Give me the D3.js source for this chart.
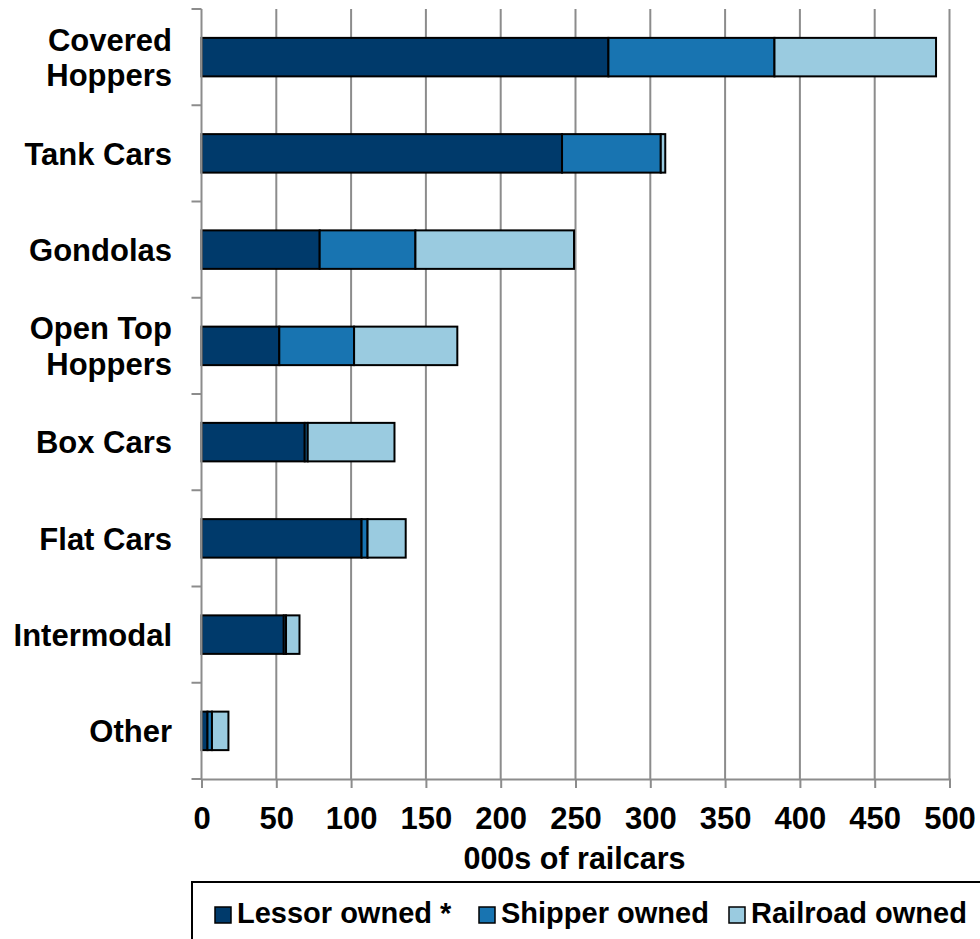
<!DOCTYPE html>
<html>
<head>
<meta charset="utf-8">
<script src="https://cdn.jsdelivr.net/npm/d3@7"></script>
<style>
  html, body { margin: 0; padding: 0; background: #fff; }
  svg { display: block; }
  text { font-family: "Liberation Sans", Arial, Helvetica, sans-serif; font-weight: bold; fill: #000; }
</style>
</head>
<body>
<svg id="chart" width="980" height="939"></svg>
<script>
// Railcar fleet by car type and owner (thousands of cars)
const categories = [
  ["Covered", "Hoppers"],
  ["Tank Cars"],
  ["Gondolas"],
  ["Open Top", "Hoppers"],
  ["Box Cars"],
  ["Flat Cars"],
  ["Intermodal"],
  ["Other"]
];
const seriesNames = ["Lessor owned *", "Shipper owned", "Railroad owned"];
const lessorOwned   = [272, 241, 79, 52, 69, 107, 55, 4];
const shipperOwned  = [111, 66, 64, 50, 2, 4, 1.5, 3];
const railroadOwned = [108, 3, 106, 69, 58, 25.5, 9, 11];
const xTicks = [0, 50, 100, 150, 200, 250, 300, 350, 400, 450, 500];
const xTitle = "000s of railcars";
const colors = ["#003A6B", "#1874B1", "#9ACBE0"];

const svg = d3.select("#chart");
const plotLeft = 201.5, plotRight = 949.5, plotTop = 9, plotBottom = 779;

const rows = categories.map((c, i) => ({
  key: c.join(" "),
  lines: c,
  values: [lessorOwned[i], shipperOwned[i], railroadOwned[i]]
}));

const x = d3.scaleLinear().domain([0, 500]).range([plotLeft, plotRight]);
const y = d3.scaleBand().domain(rows.map(r => r.key)).range([plotTop, plotBottom]).padding(0);

// vertical gridlines
svg.append("g").selectAll("line").data(xTicks.slice(1)).join("line")
  .attr("x1", d => x(d)).attr("x2", d => x(d))
  .attr("y1", plotTop).attr("y2", plotBottom)
  .attr("stroke", "#8c8c8c").attr("stroke-width", 2);

// stacked bars
const stack = d3.stack().keys([0, 1, 2]).value((r, k) => r.values[k]);
const layers = stack(rows);
const barH = y.bandwidth() * 0.4;
const barOff = y.bandwidth() * 0.3;

svg.append("g").selectAll("g").data(layers).join("g")
  .attr("fill", (d, i) => colors[i])
  .selectAll("rect").data(d => d).join("rect")
  .attr("x", d => x(d[0]))
  .attr("width", d => x(d[1]) - x(d[0]))
  .attr("y", d => y(d.data.key) + barOff)
  .attr("height", barH)
  .attr("stroke", "#000").attr("stroke-width", 2);

// y axis: line, ticks between categories, labels
const yTickPos = rows.map(r => y(r.key)).concat([plotBottom]);
svg.append("line")
  .attr("x1", plotLeft).attr("x2", plotLeft).attr("y1", plotTop).attr("y2", plotBottom)
  .attr("stroke", "#8c8c8c").attr("stroke-width", 2);
svg.append("g").selectAll("line").data(yTickPos).join("line")
  .attr("x1", plotLeft - 10).attr("x2", plotLeft)
  .attr("y1", d => d).attr("y2", d => d)
  .attr("stroke", "#8c8c8c").attr("stroke-width", 2);

const catLabels = svg.append("g").selectAll("text").data(rows).join("text")
  .attr("text-anchor", "end")
  .attr("font-size", 31)
  .attr("x", 172)
  .attr("y", d => y(d.key) + y.bandwidth() / 2);
catLabels.selectAll("tspan").data(d => d.lines.map((t, i) => ({ t, i, n: d.lines.length }))).join("tspan")
  .attr("x", 172)
  .attr("dy", d => d.i === 0 ? (d.n === 1 ? "0.36em" : (0.36 - 0.57) + "em") : "1.14em")
  .text(d => d.t);

// x axis
const xAxis = d3.axisBottom(x).tickValues(xTicks).tickSize(9).tickPadding(19);
const gx = svg.append("g").attr("transform", `translate(0,${plotBottom})`).call(xAxis);
gx.select(".domain").attr("stroke", "#8c8c8c").attr("stroke-width", 2);
gx.selectAll(".tick line").attr("stroke", "#8c8c8c").attr("stroke-width", 2);
gx.selectAll(".tick text")
  .attr("font-family", "'Liberation Sans', Arial, sans-serif")
  .attr("font-weight", "bold")
  .attr("font-size", 31)
  .attr("fill", "#000");

svg.append("text")
  .attr("x", (plotLeft + plotRight) / 2 - 1)
  .attr("y", 869)
  .attr("text-anchor", "middle")
  .attr("font-size", 30.5)
  .text(xTitle);

// legend
svg.append("rect")
  .attr("x", 192).attr("y", 882).attr("width", 800).attr("height", 80)
  .attr("fill", "#fff").attr("stroke", "#000").attr("stroke-width", 2);

const legendX = [215, 479, 729];
const lg = svg.append("g").selectAll("g").data(seriesNames).join("g")
  .attr("transform", (d, i) => `translate(${legendX[i]},0)`);
lg.append("rect")
  .attr("x", 0).attr("y", 907).attr("width", 16).attr("height", 16)
  .attr("fill", (d, i) => colors[i]).attr("stroke", "#000").attr("stroke-width", 1.5);
lg.append("text")
  .attr("x", 22).attr("y", 923)
  .attr("font-size", 29)
  .text(d => d);
</script>
</body>
</html>
